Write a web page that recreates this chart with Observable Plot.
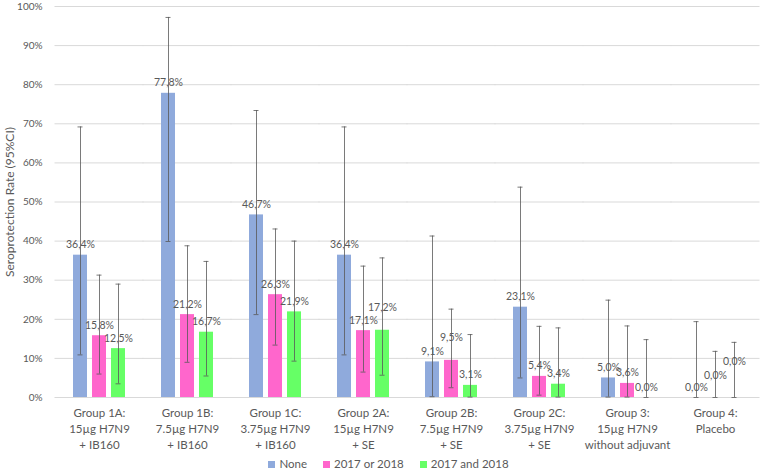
<!DOCTYPE html>
<html>
<head>
<meta charset="utf-8">
<script src="https://cdn.jsdelivr.net/npm/d3@7"></script>
<script src="https://cdn.jsdelivr.net/npm/@observablehq/plot@0.6"></script>
<style>
  body { margin: 0; background: #fff; font-family: Lato, "Open Sans", sans-serif; }
  #legend { display: flex; justify-content: center; gap: 16px; font-size: 11.5px; color: #595959; padding-left: 14px; height: 17px; align-items: center; }
  #legend span.sw { display: inline-block; width: 7px; height: 7px; margin-right: 4px; }
</style>
</head>
<body>
<div id="chart"></div>
<div id="legend"></div>
<script>
const groups = [
  "Group 1A:\n15µg H7N9\n+ IB160",
  "Group 1B:\n7.5µg H7N9\n+ IB160",
  "Group 1C:\n3.75µg H7N9\n+ IB160",
  "Group 2A:\n15µg H7N9\n+ SE",
  "Group 2B:\n7.5µg H7N9\n+ SE",
  "Group 2C:\n3.75µg H7N9\n+ SE",
  "Group 3:\n15µg H7N9\nwithout adjuvant",
  "Group 4:\nPlacebo"
];
const seriesNames = ["None", "2017 or 2018", "2017 and 2018"];
const seriesColors = ["#8faadc", "#ff66cc", "#66ff66"];

const noneVals = [36.4, 77.8, 46.7, 36.4, 9.1, 23.1, 5.0, 0.0];
const noneLo   = [10.9, 39.9, 21.2, 10.9, 0.2, 5.0, 0.1, 0.0];
const noneHi   = [69.2, 97.2, 73.4, 69.2, 41.3, 53.8, 24.9, 19.4];

const eitherVals = [15.8, 21.2, 26.3, 17.1, 9.5, 5.4, 3.6, 0.0];
const eitherLo   = [6.0, 9.0, 13.4, 6.5, 2.5, 0.6, 0.1, 0.0];
const eitherHi   = [31.3, 38.8, 43.1, 33.6, 22.6, 18.2, 18.3, 11.8];

const bothVals = [12.5, 16.7, 21.9, 17.2, 3.1, 3.4, 0.0, 0.0];
const bothLo   = [3.5, 5.5, 9.3, 5.7, 0.1, 0.1, 0.0, 0.0];
const bothHi   = [29.0, 34.8, 40.0, 35.7, 16.1, 17.8, 14.8, 14.1];

const yTicks = [0, 10, 20, 30, 40, 50, 60, 70, 80, 90, 100];

const seriesData = [
  [noneVals, noneLo, noneHi],
  [eitherVals, eitherLo, eitherHi],
  [bothVals, bothLo, bothHi]
];
const data = [];
groups.forEach((g, i) => {
  const levels = [];
  seriesNames.forEach((s, j) => {
    const [v, lo, hi] = seriesData[j];
    // lift a value label when it would collide with a neighbour's label of nearly equal height
    let level = 0;
    for (let k = 0; k < j; k++) {
      if (Math.abs(seriesData[k][0][i] - v[i]) < 1) level = Math.max(level, levels[k] + 1);
    }
    levels.push(level);
    data.push({group: g, series: s, value: v[i], lo: lo[i], hi: hi[i], level});
  });
});

const fmt = d => d.value.toFixed(1).replace(".", ",") + "%";
const errStroke = "#595959";
const labelOpts = {fx: "group", x: "series", y: "value", text: fmt, lineAnchor: "bottom", fontSize: 10.5, fill: "#595959"};

const chart = Plot.plot({
  width: 763,
  height: 455,
  marginLeft: 52,
  marginRight: 0,
  marginTop: 6,
  marginBottom: 58,
  style: {fontFamily: "Lato, 'Open Sans', sans-serif", fontSize: "12px", color: "#595959", background: "#fff"},
  fx: {domain: groups, paddingInner: 0.382, paddingOuter: 0.191, label: null},
  x: {domain: seriesNames, paddingInner: 0.25, paddingOuter: 0, axis: null},
  y: {domain: [0, 100]},
  color: {domain: seriesNames, range: seriesColors},
  marks: [
    Plot.ruleY(yTicks, {y: d => d, stroke: "#d9d9d9", strokeWidth: 1, insetLeft: -17.5, insetRight: -17.5}),
    Plot.barY(data, {fx: "group", x: "series", y: "value", fill: "series"}),
    Plot.ruleX(data, {fx: "group", x: "series", y1: "lo", y2: "hi", stroke: errStroke, strokeOpacity: 0.8}),
    Plot.tickY(data, {fx: "group", x: "series", y: "lo", stroke: errStroke, strokeOpacity: 0.8, insetLeft: 4.5, insetRight: 4.5}),
    Plot.tickY(data, {fx: "group", x: "series", y: "hi", stroke: errStroke, strokeOpacity: 0.8, insetLeft: 4.5, insetRight: 4.5}),
    Plot.text(data, {...labelOpts, filter: d => d.level === 0, dy: -7}),
    Plot.text(data, {...labelOpts, filter: d => d.level === 1, dy: -19}),
    Plot.text(data, {...labelOpts, filter: d => d.level === 2, dy: -33}),
    Plot.axisY({ticks: yTicks, tickFormat: d => d + "%", tickSize: 0, tickPadding: 30, fontSize: 10, label: null}),
    Plot.axisY({ticks: [], tickSize: 0, fontSize: 12,
      label: "Seroprotection Rate (95%CI)", labelAnchor: "center", labelArrow: false, labelOffset: 67}),
    Plot.axisFx({anchor: "bottom", tickSize: 0, tickPadding: 8, lineHeight: 1.4, fontSize: 11.5, label: null})
  ]
});
document.getElementById("chart").appendChild(chart);

const legend = document.getElementById("legend");
seriesNames.forEach((s, i) => {
  const item = document.createElement("span");
  const sw = document.createElement("span");
  sw.className = "sw";
  sw.style.background = seriesColors[i];
  item.appendChild(sw);
  item.appendChild(document.createTextNode(s));
  legend.appendChild(item);
});
</script>
</body>
</html>
